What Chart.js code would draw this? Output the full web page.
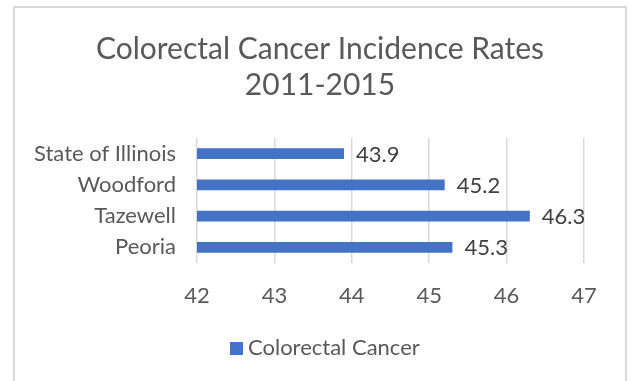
<!DOCTYPE html>
<html>
<head>
<meta charset="utf-8">
<script src="https://cdn.jsdelivr.net/npm/chart.js@4.4.1/dist/chart.umd.min.js"></script>
<style>
  html, body { margin: 0; padding: 0; background: #ffffff; }
  #wrap { position: relative; width: 631px; height: 381px; overflow: hidden; }
  #frame { position: absolute; left: 13px; top: 6px; width: 614px; height: 390px;
           border: 2px solid #d9d9d9; box-sizing: border-box; }
  canvas { position: absolute; left: 0; top: 0; }
</style>
</head>
<body>
<div id="wrap">
  <div id="frame"></div>
  <canvas id="chart" width="631" height="381"></canvas>
</div>
<script>
// Incidence rates per county, 2011-2015
const categories = ['State of Illinois', 'Woodford', 'Tazewell', 'Peoria'];
const rates = [43.9, 45.2, 46.3, 45.3];
const seriesName = 'Colorectal Cancer';
const titleLines = ['Colorectal Cancer Incidence Rates', '2011-2015'];
const axisMin = 42;
const axisMax = 47;

const FONT = 'Lato, "Open Sans", sans-serif';
const BAR_BLUE = '#4472c4';
const TEXT_GREY = '#595959';
const FRAME_CENTER_X = 320;

// Writes each bar's value just past its end
const valueLabels = {
  id: 'valueLabels',
  afterDatasetsDraw(chart) {
    const ctx = chart.ctx;
    const meta = chart.getDatasetMeta(0);
    ctx.save();
    ctx.font = '22px ' + FONT;
    ctx.fillStyle = '#404040';
    ctx.textAlign = 'left';
    ctx.textBaseline = 'middle';
    meta.data.forEach((bar, i) => {
      ctx.fillText(rates[i].toFixed(1), bar.x + 12, bar.y + 1);
    });
    ctx.restore();
  }
};

// Two-line heading and the single-series key, centred on the frame
const headingAndKey = {
  id: 'headingAndKey',
  afterDraw(chart) {
    const ctx = chart.ctx;
    ctx.save();
    ctx.fillStyle = TEXT_GREY;
    ctx.textAlign = 'center';
    ctx.textBaseline = 'alphabetic';
    ctx.font = '30px ' + FONT;
    titleLines.forEach((line, i) => ctx.fillText(line, FRAME_CENTER_X, 59 + i * 36));

    const ds = chart.data.datasets[0];
    ctx.font = '22px ' + FONT;
    const box = 13, gap = 5;
    const textW = ctx.measureText(ds.label).width;
    const total = box + gap + textW;
    const x0 = Math.round(325 - total / 2);
    ctx.fillStyle = ds.backgroundColor;
    ctx.fillRect(x0, 342, box, box);
    ctx.fillStyle = TEXT_GREY;
    ctx.textAlign = 'left';
    ctx.fillText(ds.label, x0 + box + gap, 355);
    ctx.restore();
  }
};

new Chart(document.getElementById('chart'), {
  type: 'bar',
  data: {
    labels: categories,
    datasets: [{
      label: seriesName,
      data: rates,
      backgroundColor: BAR_BLUE,
      borderWidth: 0,
      categoryPercentage: 0.8,
      barPercentage: 0.43
    }]
  },
  options: {
    indexAxis: 'y',
    responsive: false,
    animation: false,
    layout: { padding: { left: 13, right: 47, top: 138, bottom: 0 } },
    scales: {
      x: {
        min: axisMin,
        max: axisMax,
        ticks: { stepSize: 1, color: TEXT_GREY, font: { family: FONT, size: 22 }, padding: 20 },
        grid: { color: '#d9d9d9', lineWidth: 1.5, drawTicks: false },
        border: { display: false },
        afterFit(scale) { scale.height = 118; }
      },
      y: {
        ticks: { color: TEXT_GREY, font: { family: FONT, size: 22 }, padding: 21 },
        grid: { display: false, drawTicks: false },
        border: { display: false },
        afterFit(scale) { scale.width = 184; }
      }
    },
    plugins: {
      title: { display: false },
      legend: { display: false },
      tooltip: { enabled: false }
    }
  },
  plugins: [valueLabels, headingAndKey]
});
</script>
</body>
</html>
